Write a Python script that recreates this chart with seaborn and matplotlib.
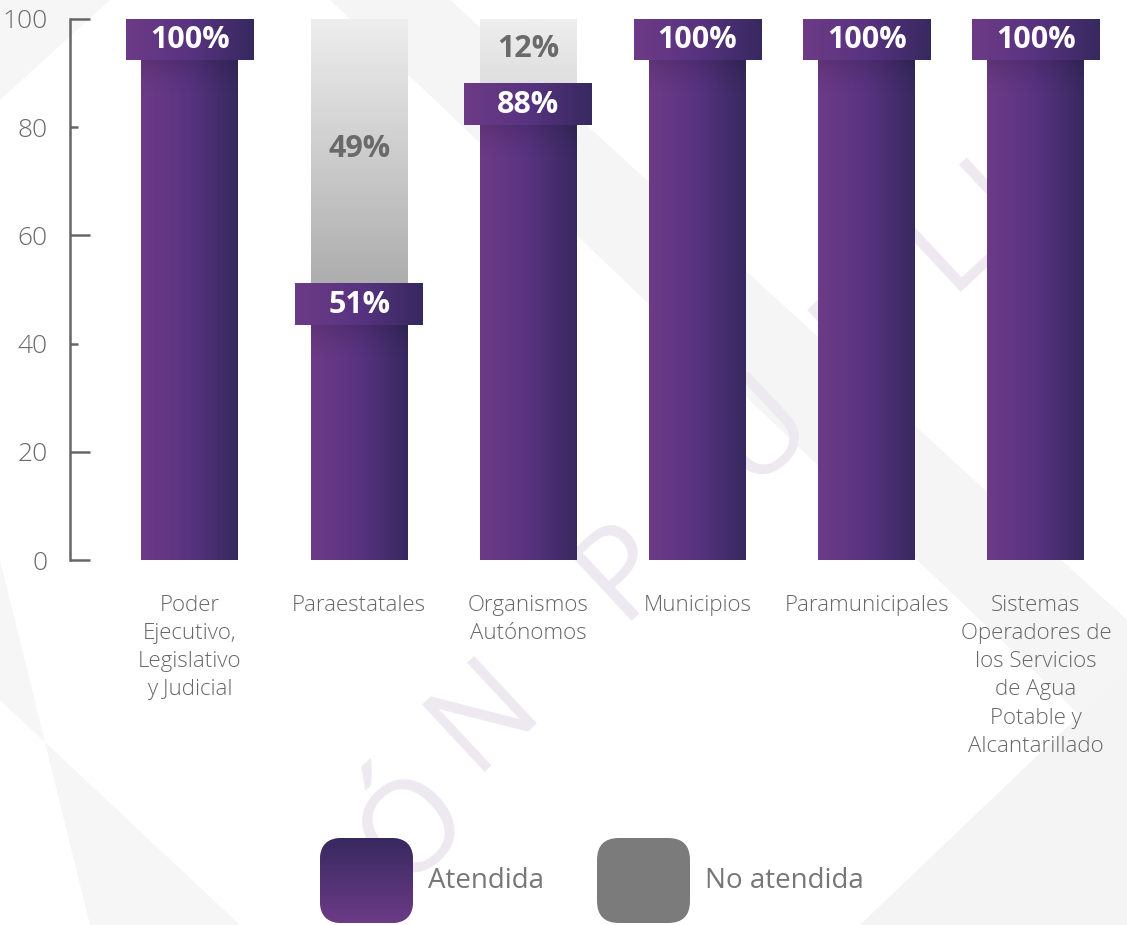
import numpy as np
import pandas as pd
import matplotlib
matplotlib.use("Agg")
import matplotlib.pyplot as plt
import seaborn as sns
from matplotlib.colors import LinearSegmentedColormap
from matplotlib.patches import FancyBboxPatch, Polygon

# data
categorias = ["Poder\nEjecutivo,\nLegislativo\ny Judicial", "Paraestatales",
              "Organismos\nAutónomos", "Municipios", "Paramunicipales",
              "Sistemas\nOperadores de\nlos Servicios\nde Agua\nPotable y\nAlcantarillado"]
atendida = [100, 51, 88, 100, 100, 100]
no_atendida = [0, 49, 12, 0, 0, 0]
yticks = [0, 20, 40, 60, 80, 100]
leyenda = ["Atendida", "No atendida"]

sns.set_theme(style="white")
plt.rcParams['font.family'] = ['Open Sans', 'DejaVu Sans']

W, H = 1127, 925
fig = plt.figure(figsize=(W / 100, H / 100), dpi=100)
fig.patch.set_facecolor("white")

# background (pixel coords)
bg = fig.add_axes([0, 0, 1, 1], zorder=0)
bg.set_xlim(0, W)
bg.set_ylim(H, 0)
bg.axis("off")
for pts, col in [
    ([(0, 0), (110, 0), (0, 100)], "#f6f6f7"),
    ([(330, 0), (450, 0), (1127, 620), (1127, 760)], "#f5f5f6"),
    ([(0, 560), (0, 700), (240, 925), (90, 925)], "#f6f6f7"),
    ([(860, 925), (1127, 670), (1127, 925)], "#f4f4f5"),
]:
    bg.add_patch(Polygon(pts, closed=True, facecolor=col, edgecolor="none"))

# watermark letters
for ch, (px, py) in zip("ÓNPÚBLIC", [(415, 830), (485, 715), (625, 570), (760, 430),
                                     (865, 325), (950, 245), (1000, 195), (1035, 150)]):
    bg.text(px, py, ch, rotation=43, fontsize=92, color="#eee9f1", ha="center",
            va="center", fontweight="normal")

purple_l, purple_r = "#6d3b87", "#37295f"
hgrad = LinearSegmentedColormap.from_list("p", [purple_l, "#583380", purple_r])
gray_cmap = LinearSegmentedColormap.from_list("g", ["#9f9f9f", "#eeeeee"])

ax = fig.add_axes([70 / W, (H - 560) / H, (W - 70) / W, 541 / H], zorder=2)
ax.set_facecolor("none")

df = pd.DataFrame({"cat": categorias,
                   "total": [a + n for a, n in zip(atendida, no_atendida)],
                   "atendida": atendida})
bw = 0.573
sns.barplot(data=df, x="cat", y="total", color="#c8c8c8", width=bw, saturation=1, ax=ax)
sns.barplot(data=df, x="cat", y="atendida", color=purple_l, width=bw, saturation=1, ax=ax)

n = len(categorias)
gray_patches = ax.patches[:n]
purple_patches = ax.patches[n:2 * n]
hrow = np.linspace(0, 1, 256).reshape(1, -1)

for i in range(n):
    gp, pp = gray_patches[i], purple_patches[i]
    x0, w = pp.get_x(), pp.get_width()
    a = atendida[i]
    tot = a + no_atendida[i]
    gp.set_visible(False)
    pp.set_facecolor("none")
    pp.set_edgecolor("none")
    if no_atendida[i] > 0:
        yy = np.linspace(a, tot, 100)
        vals = ((yy - 40) / 60).clip(0, 1).reshape(-1, 1)
        ax.imshow(vals, cmap=gray_cmap, vmin=0, vmax=1, origin="lower",
                  extent=(x0, x0 + w, a, tot), aspect="auto", zorder=2)
    ax.imshow(hrow, cmap=hgrad, extent=(x0, x0 + w, 0, a), aspect="auto", zorder=3)
    # soft shadow below the label box
    sh = np.zeros((60, 1, 4))
    sh[:, 0, 3] = np.linspace(0, 0.25, 60) ** 1.5
    ax.imshow(sh, origin="lower", extent=(x0, x0 + w, a - 14, a - 7.6), aspect="auto", zorder=4)
    # label box
    c = x0 + w / 2
    bx = 0.378
    ax.imshow(hrow, cmap=hgrad, extent=(c - bx, c + bx, a - 7.6, a), aspect="auto", zorder=5)
    ax.text(c, a - 3.9, f"{a}%", color="white", fontsize=22, fontweight="bold",
            ha="center", va="center", zorder=6)
    if no_atendida[i] > 0:
        ax.text(c, (a + tot) / 2 + 0.5, f"{no_atendida[i]}%", color="#6a6a6a", fontsize=22,
                fontweight="bold", ha="center", va="center", zorder=6)

ax.set_xlim(-0.709, 5.538)
ax.set_ylim(0, 100)
ax.set_xlabel("")
ax.set_ylabel("")
for s in ["top", "right", "bottom"]:
    ax.spines[s].set_visible(False)
ax.spines["left"].set_color("#666666")
ax.spines["left"].set_linewidth(1.8)
ax.spines["left"].set_bounds(0, 100)

ax.set_yticks(yticks)
ax.set_yticklabels([str(v) for v in yticks], fontweight="light")
ax.tick_params(axis="y", direction="in", length=14.4, width=1.8, color="#666666",
               pad=16, labelsize=19, labelcolor="#6a6a6a", left=True)
for t, v in zip(ax.yaxis.get_major_ticks(), yticks):
    t.tick1line.set_markersize(14.4 if v in (0, 20, 60, 100) else 5.8)

ax.tick_params(axis="x", length=0, pad=25, labelsize=16, labelcolor="#666666")
for lab in ax.get_xticklabels():
    lab.set_linespacing(1.45)
    lab.set_verticalalignment("top")
    lab.set_fontweight("light")

# legend (pixel coords)
sw = [(320, purple_l), (597, "#7b7b7c")]
vcol = np.linspace(0, 1, 256).reshape(-1, 1)
vgrad = LinearSegmentedColormap.from_list("v", [purple_r, purple_l])
for (lx, col), txt in zip(sw, leyenda):
    box = FancyBboxPatch((lx + 22, 838 + 22), 93 - 44, 85 - 44,
                         boxstyle="round,pad=22", facecolor=col, edgecolor="none")
    bg.add_patch(box)
    if txt == "Atendida":
        im = bg.imshow(vcol, cmap=vgrad, extent=(lx, lx + 93, 923, 838), aspect="auto", zorder=3)
        im.set_clip_path(box)
    bg.text(lx + 108, 881, txt, fontsize=20, color="#777777", ha="left", va="center")

fig.savefig("out.png", dpi=100, facecolor="white")
